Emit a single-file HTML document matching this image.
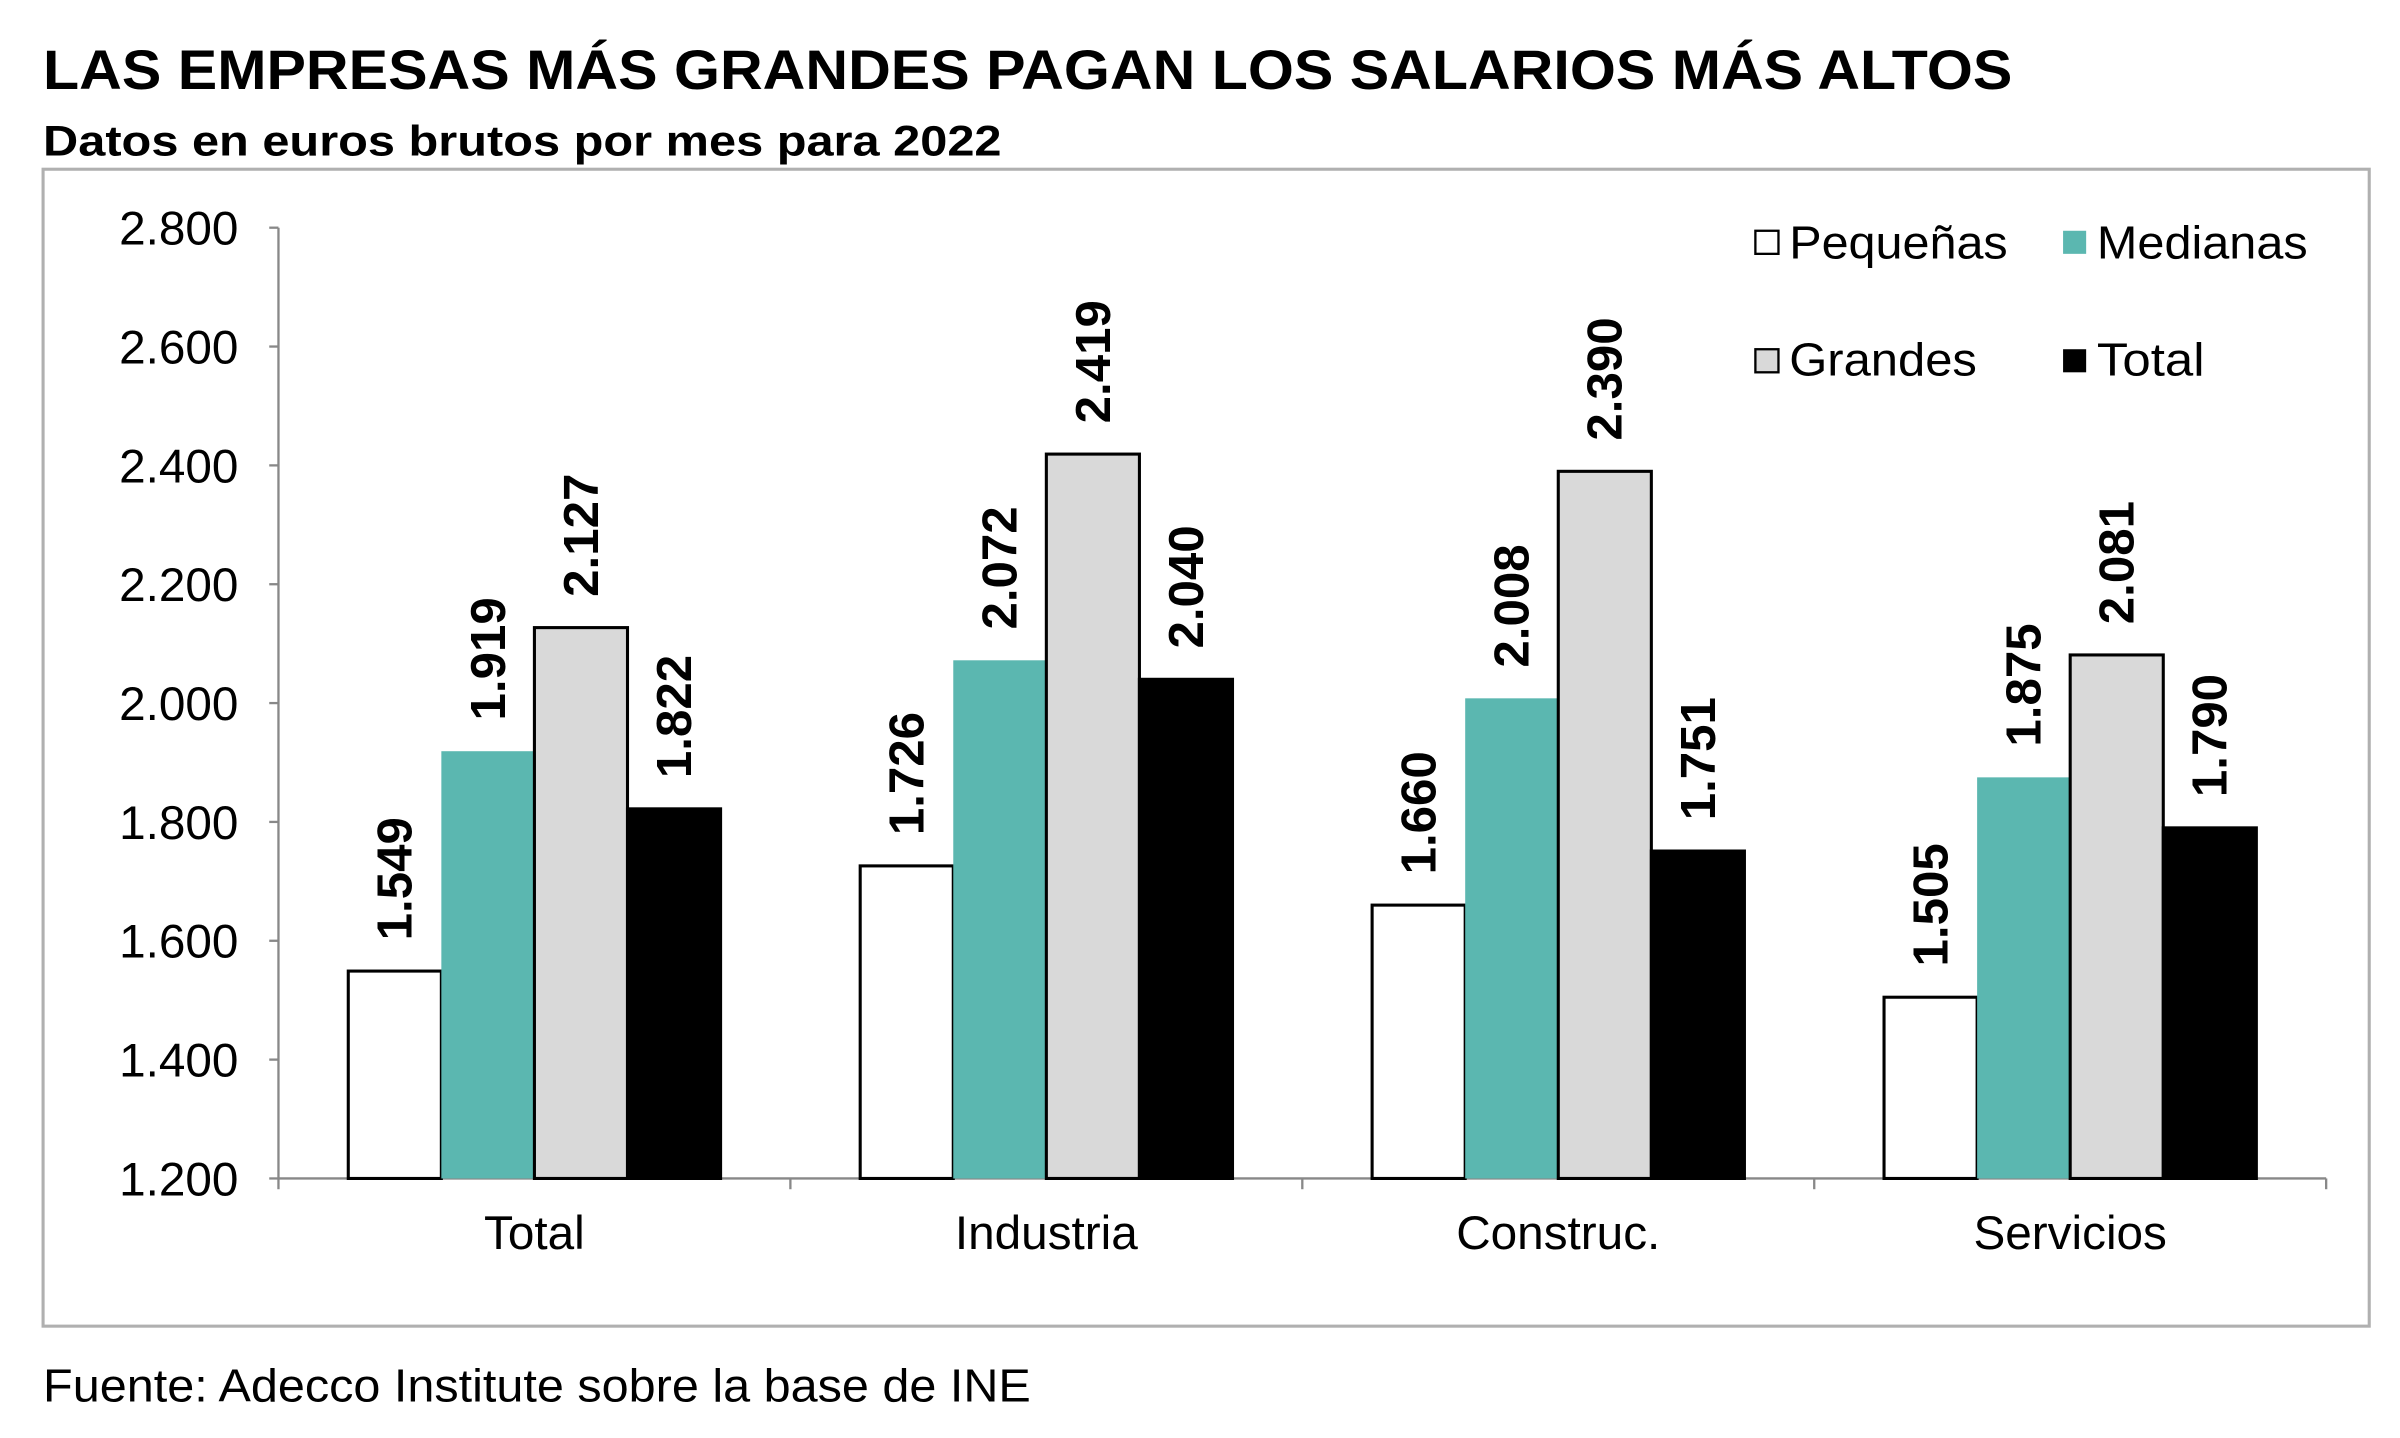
<!DOCTYPE html>
<html><head><meta charset="utf-8"><style>html,body{margin:0;padding:0;background:#fff}svg{display:block}text{font-family:"Liberation Sans",Arial,sans-serif}</style></head>
<body>
<svg id="chart" width="2400" height="1438" viewBox="0 0 1560 934.7" xmlns="http://www.w3.org/2000/svg">
<text x="28" y="58" font-size="36" font-weight="bold" textLength="1280" lengthAdjust="spacingAndGlyphs">LAS EMPRESAS MÁS GRANDES PAGAN LOS SALARIOS MÁS ALTOS</text>
<text x="28" y="101" font-size="28" font-weight="bold" textLength="623" lengthAdjust="spacingAndGlyphs">Datos en euros brutos por mes para 2022</text>
<rect x="28" y="110" width="1512" height="752" fill="none" stroke="#b0b0b0" stroke-width="2"/>
<g id="plot"></g>
<g>
<rect x="1141" y="150" width="15" height="15" fill="#fff" stroke="#000" stroke-width="1.5"/>
<text x="1163" y="168" font-size="30" textLength="142" lengthAdjust="spacingAndGlyphs">Pequeñas</text>
<rect x="1341" y="150" width="15" height="15" fill="#5bb7b0"/>
<text x="1363" y="168" font-size="30" textLength="137" lengthAdjust="spacingAndGlyphs">Medianas</text>
<rect x="1141" y="227" width="15" height="15" fill="#d9d9d9" stroke="#000" stroke-width="1.5"/>
<text x="1163" y="244" font-size="30" textLength="122" lengthAdjust="spacingAndGlyphs">Grandes</text>
<rect x="1341" y="227" width="15" height="15" fill="#000"/>
<text x="1363" y="244" font-size="30" textLength="70" lengthAdjust="spacingAndGlyphs">Total</text>
</g>
<text x="28" y="911" font-size="30" textLength="642" lengthAdjust="spacingAndGlyphs">Fuente: Adecco Institute sobre la base de INE</text>
</svg>
<script>
const categories = ["Total", "Industria", "Construc.", "Servicios"];
const pequenas = [1549, 1726, 1660, 1505];
const medianas = [1919, 2072, 2008, 1875];
const grandes = [2127, 2419, 2390, 2081];
const totalSeries = [1822, 2040, 1751, 1790];
const yTicks = [1200, 1400, 1600, 1800, 2000, 2200, 2400, 2600, 2800];
const yTickLabels = ["1.200", "1.400", "1.600", "1.800", "2.000", "2.200", "2.400", "2.600", "2.800"];

const NS = "http://www.w3.org/2000/svg";
const plot = document.getElementById("plot");
const X0 = 181, X1 = 1512, Y0 = 766, Y1 = 148, YMIN = 1200, YMAX = 2800;
function y(v) { return Y0 - (v - YMIN) / (YMAX - YMIN) * (Y0 - Y1); }
const catW = (X1 - X0) / categories.length;
function xCat(i) { return X0 + i * catW; }
function mk(tag, attrs) { const e = document.createElementNS(NS, tag); for (const k in attrs) e.setAttribute(k, attrs[k]); plot.appendChild(e); return e; }
function fmt(v) { const s = String(v); return s.length > 3 ? s.slice(0, s.length - 3) + "." + s.slice(-3) : s; }

let ax = mk("line", {x1: X0, y1: Y1, x2: X0, y2: Y0, stroke: "#888", "stroke-width": 1.5});


yTicks.forEach((t, i) => {
  const tk = mk("line", {x1: X0 - 6, y1: y(t), x2: X0, y2: y(t), stroke: "#888", "stroke-width": 1.5});
  
  
  const tl = mk("text", {x: 155, y: y(t) + 11, "font-size": 31, "text-anchor": "end"});
  tl.textContent = yTickLabels[i];
  
  
});
let xa = mk("line", {x1: X0, y1: Y0, x2: X1, y2: Y0, stroke: "#888", "stroke-width": 1.5});


for (let i = 0; i <= categories.length; i++) {
  const tk = mk("line", {x1: xCat(i), y1: Y0, x2: xCat(i), y2: Y0 + 7, stroke: "#888", "stroke-width": 1.5});
  
  
}
const series = [
  {name: "pequenas", vals: pequenas, fill: "#fff", stroke: "#000"},
  {name: "medianas", vals: medianas, fill: "#5bb7b0", stroke: "none"},
  {name: "grandes", vals: grandes, fill: "#d9d9d9", stroke: "#000"},
  {name: "total", vals: totalSeries, fill: "#000", stroke: "#000"}
];
const barW = 60.5, groupW = barW * series.length;
categories.forEach((c, i) => {
  const gx = xCat(i) + (catW - groupW) / 2;
  series.forEach((s, j) => {
    const v = s.vals[i];
    const bx = gx + j * barW, by = y(v);
    const r = mk("rect", {x: bx, y: by, width: barW, height: Y0 - by, fill: s.fill, stroke: s.stroke, "stroke-width": 2});
    
    
    const cx = bx + barW / 2 + 11, ty = by - 20;
    const t = mk("text", {x: cx, y: ty, "font-size": 32, "font-weight": "bold", transform: "rotate(-90 " + cx + " " + ty + ")"});
    t.textContent = fmt(v);
    
    
  });
  const cl = mk("text", {x: xCat(i) + catW / 2, y: 812, "font-size": 31, "text-anchor": "middle"});
  cl.textContent = c;
  
  
});
</script>
</body></html>
